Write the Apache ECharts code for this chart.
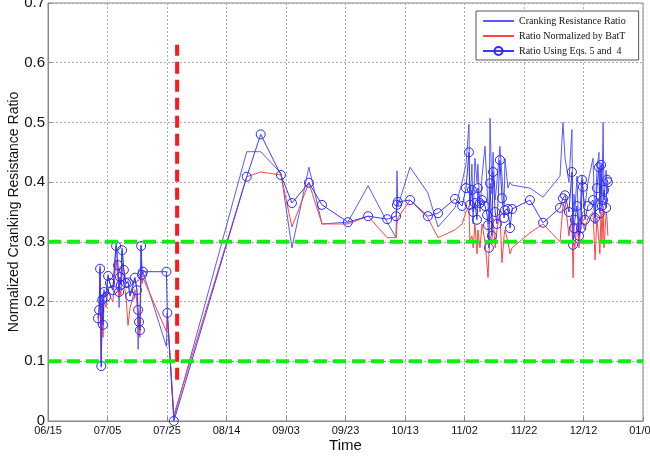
<!DOCTYPE html>
<html>
<head>
<meta charset="utf-8">
<script src="https://cdn.jsdelivr.net/npm/echarts@6/dist/echarts.min.js"></script>
<style>html,body{margin:0;padding:0;background:#fff;}#c{width:650px;height:459px;}</style>
</head>
<body>
<div id="c"></div>
<script>
// Days since 06/15
var days = [16.8,17.2,17.5,17.9,18.2,18.5,18.8,19.5,20.2,20.8,21.8,22.9,23.5,23.9,24.2,24.5,24.9,25.5,26.2,26.9,27.6,29.2,29.9,30.3,30.6,30.9,31.3,31.6,31.9,
  39.8,40.1,42.3,
  66.8,71.5,78.3,82.0,87.7,92.1,100.8,107.6,114.0,117.0,117.3,117.6,121.7,127.7,131.1,136.8,
  139.2,140.5,141.5,141.8,142.5,142.9,143.5,144.2,144.5,145.2,145.9,146.9,147.6,147.9,148.2,148.6,149.2,149.6,150.3,150.9,151.9,152.6,153.3,153.6,154.6,155.3,156.0,
  162.0,166.4,172.1,173.1,173.8,
  175.1,176.1,176.5,176.8,177.1,177.8,178.5,179.2,179.5,179.8,180.5,181.5,183.2,183.9,184.5,185.2,185.5,185.9,186.2,186.6,186.9,187.6,187.9,188.2];
var crankingRatio = [0.17,0.19,0.26,0.09,0.21,0.16,0.22,0.21,0.245,0.23,0.22,0.30,0.26,0.19,0.24,0.23,0.29,0.25,0.23,0.235,0.21,0.24,0.22,0.12,0.17,0.15,0.295,0.245,0.25,
  0.125,0.18,0.005,
  0.451,0.451,0.415,0.29,0.425,0.33,0.333,0.394,0.333,0.307,0.419,0.36,0.425,0.382,0.325,0.357,
  0.40,0.43,0.497,0.36,0.43,0.33,0.44,0.40,0.43,0.35,0.41,0.46,0.39,0.36,0.33,0.507,0.38,0.45,0.37,0.40,0.46,0.41,0.36,0.44,0.39,0.40,0.395,
  0.39,0.375,0.41,0.50,0.44,
  0.40,0.488,0.30,0.38,0.35,0.41,0.30,0.39,0.41,0.38,0.36,0.40,0.44,0.33,0.42,0.45,0.36,0.43,0.38,0.50,0.37,0.42,0.40,0.38];
var normalizedBatT = [0.16,0.18,0.24,0.10,0.19,0.14,0.20,0.19,0.22,0.21,0.20,0.27,0.24,0.21,0.22,0.21,0.26,0.23,0.21,0.16,0.19,0.22,0.20,0.17,0.15,0.14,0.26,0.23,0.24,
  0.15,0.18,0.01,
  0.409,0.417,0.412,0.325,0.399,0.33,0.33,0.343,0.307,0.307,0.33,0.34,0.37,0.34,0.307,0.32,
  0.33,0.35,0.36,0.30,0.31,0.29,0.33,0.28,0.32,0.29,0.33,0.30,0.26,0.24,0.28,0.31,0.30,0.34,0.29,0.32,0.35,0.265,0.31,0.32,0.30,0.28,0.29,
  0.315,0.33,0.30,0.36,0.37,
  0.31,0.34,0.24,0.30,0.29,0.33,0.29,0.34,0.35,0.33,0.32,0.34,0.35,0.27,0.34,0.30,0.28,0.35,0.30,0.36,0.29,0.35,0.34,0.31];
var eqs54Ratio = [0.172,0.186,0.255,0.092,0.203,0.161,0.216,0.208,0.243,0.231,0.219,0.293,0.261,0.216,0.241,0.228,0.286,0.253,0.231,0.232,0.209,0.24,0.219,0.186,0.166,0.152,0.293,0.245,0.25,
  0.25,0.181,0.0,
  0.409,0.48,0.412,0.365,0.399,0.362,0.333,0.343,0.338,0.343,0.362,0.367,0.37,0.343,0.348,0.372,
  0.36,0.39,0.45,0.362,0.387,0.35,0.365,0.337,0.39,0.365,0.37,0.36,0.345,0.328,0.29,0.398,0.31,0.417,0.35,0.33,0.437,0.373,0.34,0.353,0.355,0.323,0.355,
  0.37,0.332,0.357,0.373,0.378,
  0.35,0.417,0.295,0.323,0.337,0.36,0.31,0.323,0.404,0.392,0.337,0.36,0.37,0.34,0.39,0.425,0.348,0.429,0.36,0.37,0.387,0.357,0.404,0.40];
var tickLabels = ['06/15','07/05','07/25','08/14','09/03','09/23','10/13','11/02','11/22','12/12','01/01'];
var thresholds = [0.1, 0.3];
var markerDay = 43.4;
var markerRange = [0.069, 0.63];

function pairs(ys){ return days.map(function(d,i){ return [d, ys[i]]; }); }

var chart = echarts.init(document.getElementById('c'), null, {renderer:'canvas'});
var series = [
  {name:'Cranking Resistance Ratio', type:'line', data:pairs(crankingRatio), showSymbol:false, symbol:'none',
   lineStyle:{color:'#5a5aff', width:1}, itemStyle:{color:'#5a5aff'}, z:2},
  {name:'Ratio Normalized by BatT', type:'line', data:pairs(normalizedBatT), showSymbol:false, symbol:'none',
   lineStyle:{color:'#ff4545', width:1}, itemStyle:{color:'#ff4545'}, z:3},
  {name:'Ratio Using Eqs. 5 and  4', type:'line', data:pairs(eqs54Ratio), symbol:'circle', symbolSize:9, showSymbol:true,
   lineStyle:{color:'#3a3aff', width:1}, itemStyle:{color:'rgba(0,0,0,0)', borderColor:'#2a2aff', borderWidth:1}, z:4}
];
thresholds.forEach(function(t){
  series.push({type:'line', data:[[0,t],[200,t]], symbol:'none', silent:true,
    lineStyle:{color:'#11ee11', width:4, type:[13,6]}, z:5});
});
series.push({type:'line', data:[[markerDay,markerRange[0]],[markerDay,markerRange[1]]], symbol:'none', silent:true,
  lineStyle:{color:'#ff1a1a', width:4, type:[12,6]}, z:6});

chart.setOption({
  animation:false,
  backgroundColor:'#fff',
  grid:{left:48, right:7, top:3, bottom:38, containLabel:false, outerBoundsMode:'none',
    show:true, borderColor:'#888', borderWidth:1, backgroundColor:'transparent'},
  legend:{
    data:[
      {name:'Cranking Resistance Ratio', itemStyle:{opacity:0}},
      {name:'Ratio Normalized by BatT', itemStyle:{opacity:0}},
      {name:'Ratio Using Eqs. 5 and  4'}],
    orient:'vertical', left:476, top:11, itemWidth:31, itemHeight:10, itemGap:5,
    padding:[5,13,4,6], borderColor:'#555', borderWidth:1, backgroundColor:'#fff', borderRadius:0,
    textStyle:{fontFamily:'Liberation Serif', fontSize:10, color:'#111'}
  },
  xAxis:{type:'value', min:0, max:200, interval:20,
    name:'Time', nameLocation:'middle', nameGap:17, nameMoveOverlap:false,
    nameTextStyle:{fontFamily:'Liberation Sans', fontSize:15, color:'#111'},
    axisLine:{show:true, lineStyle:{color:'#888'}}, axisTick:{show:true, inside:true, length:4, lineStyle:{color:'#888'}},
    axisLabel:{fontFamily:'Liberation Sans', fontSize:11, color:'#111', margin:4,
      formatter:function(v){ return tickLabels[Math.round(v/20)]; }},
    splitLine:{show:true, lineStyle:{color:'#aaa', type:[2,2], width:1}}},
  yAxis:{type:'value', min:0, max:0.7, interval:0.1,
    name:'Normalized Cranking Resistance Ratio', nameLocation:'middle', nameGap:27, nameRotate:90, nameMoveOverlap:false,
    nameTextStyle:{fontFamily:'Liberation Sans', fontSize:14, color:'#111'},
    axisLine:{show:true, lineStyle:{color:'#888'}}, axisTick:{show:true, inside:true, length:4, lineStyle:{color:'#888'}},
    axisLabel:{fontFamily:'Liberation Sans', fontSize:15, color:'#111', margin:3,
      formatter:function(v){ return v===0 ? '0' : v.toFixed(1); }},
    splitLine:{show:true, lineStyle:{color:'#aaa', type:[2,2], width:1}}},
  series:series
});
</script>
</body>
</html>
